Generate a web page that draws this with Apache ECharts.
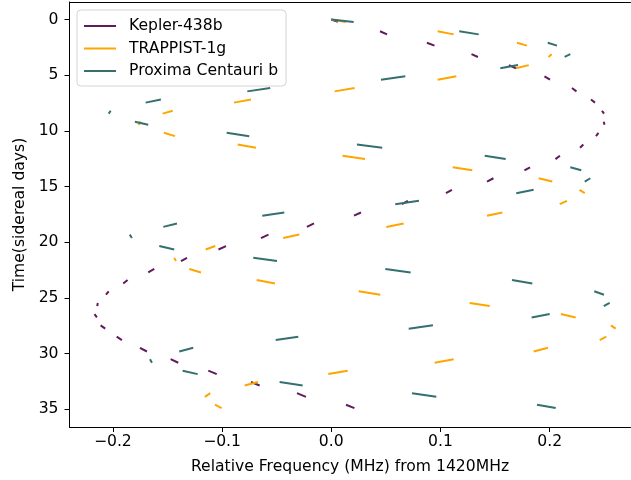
<!DOCTYPE html>
<html>
<head>
<meta charset="utf-8">
<script src="https://cdn.jsdelivr.net/npm/echarts@6/dist/echarts.min.js"></script>
<style>
html,body{margin:0;padding:0;background:#fff;}
#chart{width:631px;height:480px;}
</style>
</head>
<body>
<div id="chart"></div>
<script>
// Observation windows (sidereal days): start and end of each visible segment
const windowStart = [0, 1.06, 2.09, 3.12, 4.10, 5.11, 6.16, 7.19, 8.20, 9.18, 10.18, 11.23, 12.24, 13.28, 14.26, 15.30, 16.29, 17.34, 18.32, 19.32, 20.35, 21.41, 22.41, 23.39, 24.41, 25.46, 26.46, 27.47, 28.49, 29.49, 30.51, 31.54, 32.56, 33.56, 34.60];
const windowEnd = [0.22, 1.34, 2.35, 3.37, 4.38, 5.41, 6.46, 7.47, 8.46, 9.46, 10.48, 11.52, 12.54, 13.55, 14.56, 15.60, 16.59, 17.62, 18.63, 19.63, 20.66, 21.70, 22.72, 23.71, 24.72, 25.74, 26.76, 27.77, 28.79, 29.82, 30.83, 31.85, 32.87, 33.89, 34.90];

// Relative frequency (MHz) at the start / end of each window
const keplerStart = [0, 0.0446, 0.0876, 0.1284, 0.1627, 0.1952, 0.2204, 0.2378, 0.2479, 0.2495, 0.2447, 0.2308, 0.2094, 0.1820, 0.1485, 0.1105, 0.0702, 0.0272, -0.0158, -0.0575, -0.0964, -0.1321, -0.1621, -0.1865, -0.2038, -0.2138, -0.2168, -0.2112, -0.1965, -0.1752, -0.1471, -0.1126, -0.0735, -0.0314, 0.0135];
const keplerEnd = [0.0061, 0.0511, 0.0945, 0.1343, 0.1691, 0.2003, 0.2245, 0.2415, 0.2497, 0.2502, 0.2424, 0.2278, 0.2053, 0.1769, 0.1426, 0.1050, 0.0647, 0.0208, -0.0223, -0.0644, -0.1033, -0.1376, -0.1676, -0.1905, -0.2063, -0.2143, -0.2146, -0.2070, -0.1917, -0.1688, -0.1401, -0.1049, -0.0656, -0.0232, 0.0212];

const trappistStart = [0, 0.0974, 0.1701, 0.2018, 0.1808, 0.1145, 0.0214, -0.0735, -0.1452, -0.1743, -0.1532, -0.0857, 0.0103, 0.1112, 0.1899, 0.2273, 0.2158, 0.1566, 0.0663, -0.0293, -0.1062, -0.1438, -0.1300, -0.0683, 0.0251, 0.1267, 0.2103, 0.2561, 0.2518, 0.1984, 0.1121, 0.0150, -0.0671, -0.1108, -0.1065];
const trappistEnd = [0.0135, 0.1121, 0.1792, 0.1989, 0.1691, 0.0974, 0.0031, -0.0891, -0.1544, -0.1766, -0.1431, -0.0690, 0.0309, 0.1291, 0.2024, 0.2321, 0.2092, 0.1426, 0.0504, -0.0440, -0.1150, -0.1422, -0.1193, -0.0516, 0.0449, 0.1451, 0.2238, 0.2604, 0.2458, 0.1853, 0.0947, -0.0027, -0.0793, -0.1157, -0.1004];

const proximaStart = [0, 0.1172, 0.1982, 0.2189, 0.1710, 0.0678, -0.0559, -0.1560, -0.2020, -0.1798, -0.0958, 0.0235, 0.1405, 0.2189, 0.2372, 0.1853, 0.0803, -0.0430, -0.1413, -0.1846, -0.1575, -0.0714, 0.0495, 0.1655, 0.2408, 0.2549, 0.2000, 0.0931, -0.0302, -0.1264, -0.1660, -0.1361, -0.0473, 0.0739, 0.1884];
const proximaEnd = [0.0205, 0.1350, 0.2067, 0.2137, 0.1548, 0.0455, -0.0769, -0.1700, -0.2038, -0.1676, -0.0751, 0.0467, 0.1597, 0.2289, 0.2321, 0.1694, 0.0586, -0.0632, -0.1538, -0.1825, -0.1438, -0.0497, 0.0727, 0.1841, 0.2497, 0.2495, 0.1835, 0.0709, -0.0509, -0.1392, -0.1642, -0.1223, -0.0262, 0.0962, 0.2055];

const seriesNames = ['Kepler-438b', 'TRAPPIST-1g', 'Proxima Centauri b'];
const seriesColors = ['#611a5b', '#ffa500', '#356f6f'];
const xTicks = [-0.2, -0.1, 0.0, 0.1, 0.2];
const yTicks = [0, 5, 10, 15, 20, 25, 30, 35];

function segments(startF, endF) {
  const out = [];
  for (let i = 0; i < startF.length; i++) {
    out.push([startF[i], windowStart[i]]);
    out.push([endF[i], windowEnd[i]]);
    out.push(null);
  }
  return out;
}
const seriesData = [
  segments(keplerStart, keplerEnd),
  segments(trappistStart, trappistEnd),
  segments(proximaStart, proximaEnd)
];

const FONT = 'DejaVu Sans';
const FS = 15.6;
const fmtX = v => (v < -1e-9 ? '\u2212' : '') + Math.abs(v).toFixed(1);
const X_MIN = -0.2397, X_MAX = 0.2740;

const chart = echarts.init(document.getElementById('chart'), null, {renderer: 'canvas'});
chart.setOption({
  animation: false,
  backgroundColor: '#fff',
  grid: {left: 69.5, top: 2, width: 561, height: 426.3, show: false},
  legend: {
    orient: 'vertical', left: 77, top: 10,
    padding: [8, 8, 7, 7], itemGap: 6.5, itemWidth: 32, itemHeight: 2,
    backgroundColor: 'rgba(255,255,255,0.8)', borderColor: '#d5d5d5', borderWidth: 1, borderRadius: 4,
    textStyle: {fontFamily: FONT, fontSize: FS, color: '#000', padding: [0, 0, 0, 8]},
    data: seriesNames.map(n => ({name: n, icon: 'rect'}))
  },
  xAxis: [{
    type: 'value', min: X_MIN, max: X_MAX,
    name: 'Relative Frequency (MHz) from 1420MHz', nameLocation: 'middle', nameGap: 32,
    nameTextStyle: {fontFamily: FONT, fontSize: FS, color: '#000'},
    axisLine: {show: true, onZero: false, lineStyle: {color: '#000', width: 1}},
    axisTick: {show: true, inside: false, length: 5, customValues: xTicks, lineStyle: {color: '#000'}},
    axisLabel: {customValues: xTicks, formatter: fmtX, fontFamily: FONT, fontSize: FS, color: '#000', margin: 7},
    splitLine: {show: false}
  }, {
    type: 'value', position: 'top', min: X_MIN, max: X_MAX,
    axisLine: {show: true, onZero: false, lineStyle: {color: '#000', width: 1}},
    axisTick: {show: false}, axisLabel: {show: false}, splitLine: {show: false}
  }],
  yAxis: {
    type: 'value', inverse: true, min: -1.567, max: 36.6,
    name: 'Time(sidereal days)', nameLocation: 'middle', nameGap: 37, nameRotate: 90,
    nameTextStyle: {fontFamily: FONT, fontSize: FS, color: '#000'},
    axisLine: {show: true, onZero: false, lineStyle: {color: '#000', width: 1}},
    axisTick: {show: true, inside: false, length: 5, customValues: yTicks, lineStyle: {color: '#000'}},
    axisLabel: {customValues: yTicks, formatter: v => String(v), fontFamily: FONT, fontSize: FS, color: '#000', margin: 11},
    splitLine: {show: false}
  },
  series: seriesNames.map((n, i) => ({
    name: n, type: 'line', data: seriesData[i], showSymbol: false, symbol: 'none',
    xAxisIndex: 0, connectNulls: false, clip: true,
    lineStyle: {color: seriesColors[i], width: 2, cap: 'butt'},
    itemStyle: {color: seriesColors[i]},
    emphasis: {disabled: true}
  }))
});
</script>
</body>
</html>
